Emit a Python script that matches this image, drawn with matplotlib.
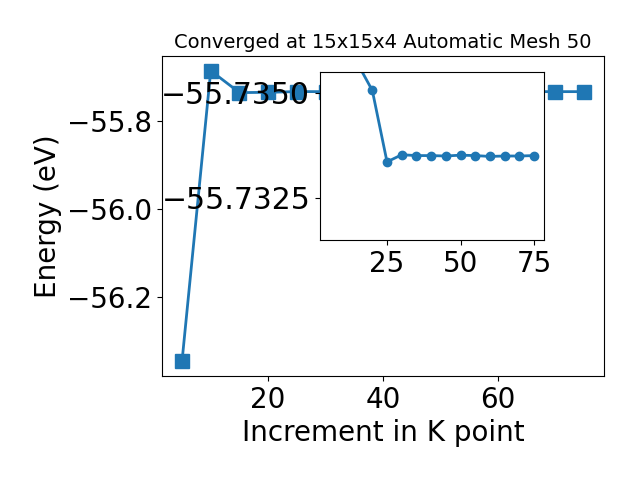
import matplotlib
matplotlib.use('Agg')
import matplotlib.pyplot as plt

# K-point mesh increments and total energies (eV)
kpoints = [5, 10, 15, 20, 25, 30, 35, 40, 45, 50, 55, 60, 65, 70, 75]
energy = [-56.345, -55.686, -55.7357, -55.73506, -55.73336, -55.73353,
          -55.73351, -55.73351, -55.73350, -55.73352, -55.73351,
          -55.73349, -55.73350, -55.73350, -55.73351]

inset_yticks = [-55.7350, -55.7325]

fig = plt.figure(figsize=(6.4, 4.8), dpi=100)
ax = fig.add_axes([0.253, 0.217, 0.691, 0.666])
ax.plot(kpoints, energy, marker='s', markersize=10, linewidth=2, color='#1f77b4')
ax.set_title("Converged at 15x15x4 Automatic Mesh 50", fontsize=14)
ax.set_xlabel("Increment in K point", fontsize=20)
ax.set_ylabel("Energy (eV)", fontsize=20)
ax.tick_params(labelsize=20)

# Zoomed view of the converged region
axins = fig.add_axes([0.5, 0.5, 0.35, 0.35])
axins.plot(kpoints[2:], energy[2:], marker='o', markersize=6, linewidth=2, color='#1f77b4')
axins.set_xlim(2.2, 78.4)
axins.set_ylim(-55.7315, -55.7355)
axins.set_yticks(inset_yticks)
axins.set_xticks([25, 50, 75])
axins.ticklabel_format(axis='y', useOffset=False)
axins.tick_params(axis='x', labelsize=20)
axins.tick_params(axis='y', labelsize=21.5)

plt.savefig("out.png", dpi=100)
plt.close()
